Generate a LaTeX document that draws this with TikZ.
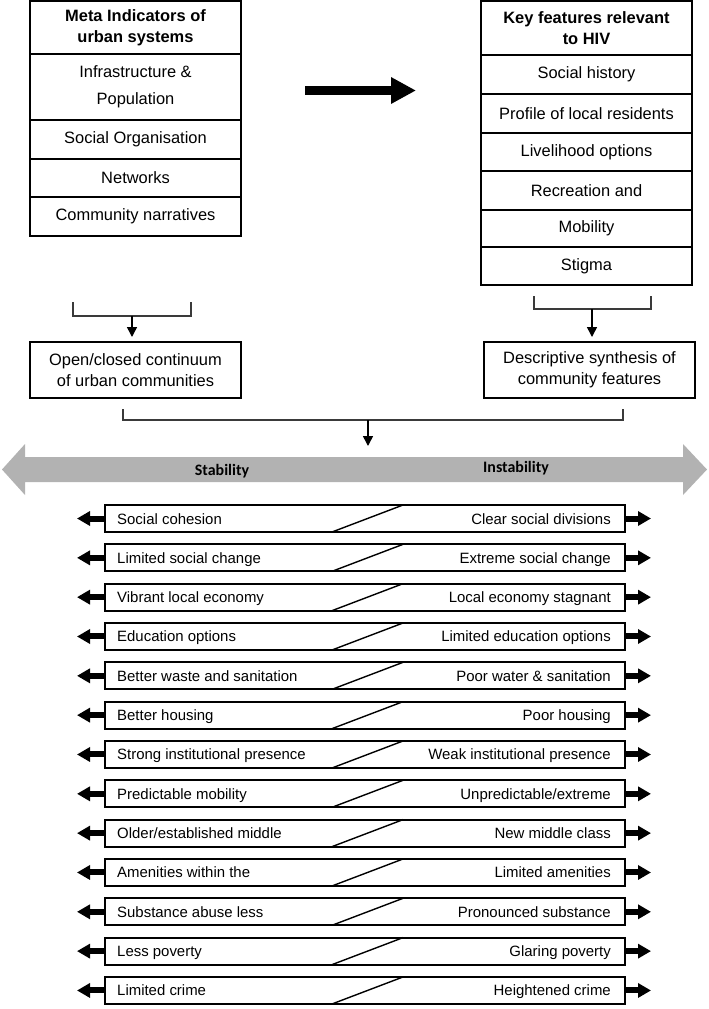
\documentclass[tikz,border=0pt]{standalone}
\usepackage{fontspec}
\setmainfont{Liberation Sans}
\newfontfamily\calfont{Carlito}
\usetikzlibrary{arrows.meta}
\definecolor{bandgray}{HTML}{B2B2B2}
\definecolor{brk}{HTML}{3A3A3A}
\tikzset{
  cell/.style={draw, line width=1.5bp, minimum width=211bp, inner sep=0pt, align=center,
    font=\fontsize{16.5}{21}\selectfont},
  headcell/.style={cell, font=\bfseries\fontsize{16.5}{21}\selectfont},
  bracket/.style={draw=brk, line width=1.4bp},
  downarr/.style={line width=1.5bp, -{Triangle[length=10bp,width=10bp]}},
  bigarr/.style={line width=9bp, -{Triangle[length=25bp,width=25bp]}},
  rowbox/.style={draw, line width=1.8bp, minimum width=520bp, minimum height=27bp, inner sep=0pt},
  rowtxt/.style={font=\fontsize{15}{18}\selectfont, inner sep=0pt},
  rowarr/.style={line width=6bp, -{Triangle[length=13bp,width=14bp]}},
  bandtxt/.style={font=\calfont\bfseries\fontsize{16}{19}\selectfont}
}
\newcommand{\mkrow}[3]{%
  \pgfmathsetmacro{\yt}{505+#1*39.33}%
  \node[rowbox] (row#1) at (365,\yt+13.5) {};
  \draw[line width=1.4bp] (332,\yt+27) -- (403,\yt);
  \node[rowtxt, anchor=base west] (rl#1) at (117,\yt+19) {#2};
  \node[rowtxt, anchor=base east] (rr#1) at (611,\yt+19) {#3};
  \coordinate (la#1) at (77,\yt+13.5);
  \coordinate (ra#1) at (651,\yt+13.5);
  \draw[rowarr] (row#1.west) -- (la#1);
  \draw[rowarr] (row#1.east) -- (ra#1);
}
\begin{document}
\begin{tikzpicture}[x=1bp,y=-1bp]
\useasboundingbox (0,0) rectangle (709,1009);
% left stack
\node[headcell, minimum height=53bp] (L0) at (135.5,27.5) {Meta Indicators of\\urban systems};
\node[cell, minimum height=66bp] (L1) at (135.5,87) {Infrastructure \&\\[6bp]Population};
\node[cell, minimum height=39bp] (L2) at (135.5,139.5) {Social Organisation};
\node[cell, minimum height=38bp] (L3) at (135.5,178) {Networks};
\node[cell, minimum height=39bp] (L4) at (135.5,216.5) {Community narratives};
% right stack
\node[headcell, minimum height=54bp] (R0) at (586.5,28) {Key features relevant\\to HIV};
\node[cell, minimum height=39bp] (R1) at (586.5,74.5) {Social history};
\node[cell, minimum height=39bp] (R2) at (586.5,113.5) {Profile of local residents};
\node[cell, minimum height=38bp] (R3) at (586.5,152) {Livelihood options};
\node[cell, minimum height=39bp] (R4) at (586.5,190.5) {Recreation and};
\node[cell, minimum height=37bp] (R5) at (586.5,228.5) {Mobility};
\node[cell, minimum height=38bp] (R6) at (586.5,266) {Stigma};
% big arrow
\coordinate (ba1) at (305,90.5);
\coordinate (ba2) at (416,90.5);
\draw[bigarr] (ba1) -- (ba2);
% synthesis boxes
\node[cell, minimum height=56bp] (O) at (135.5,370) {Open/closed continuum\\of urban communities};
\node[cell, minimum height=56bp] (D) at (589.5,370) {Descriptive synthesis of\\community features};
% brackets
\draw[bracket] (73,302) -- (73,316) -- (191,316) -- (191,302);
\coordinate (lb) at (132,316);
\draw[downarr] (lb) -- (132,337);
\draw[bracket] (534,296) -- (534,309) -- (651,309) -- (651,296);
\coordinate (rb) at (592,309);
\draw[downarr] (rb) -- (592,337);
\draw[bracket] (123,409) -- (123,420) -- (623,420) -- (623,409);
\coordinate (bb) at (368,420);
\coordinate (bt) at (368,446);
\draw[downarr] (bb) -- (bt);
% band
\fill[bandgray] (2,469.5) -- (25,444) -- (25,457) -- (683,457) -- (683,444) -- (707,469.5)
  -- (683,495) -- (683,482) -- (25,482) -- (25,495) -- cycle;
\node[bandtxt] (stab) at (222,471) {Stability};
\node[bandtxt] (instab) at (516,468) {Instability};
% rows
\mkrow{0}{Social cohesion}{Clear social divisions}
\mkrow{1}{Limited social change}{Extreme social change}
\mkrow{2}{Vibrant local economy}{Local economy stagnant}
\mkrow{3}{Education options}{Limited education options}
\mkrow{4}{Better waste and sanitation}{Poor water \& sanitation}
\mkrow{5}{Better housing}{Poor housing}
\mkrow{6}{Strong institutional presence}{Weak institutional presence}
\mkrow{7}{Predictable mobility}{Unpredictable/extreme}
\mkrow{8}{Older/established middle}{New middle class}
\mkrow{9}{Amenities within the}{Limited amenities}
\mkrow{10}{Substance abuse less}{Pronounced substance}
\mkrow{11}{Less poverty}{Glaring poverty}
\mkrow{12}{Limited crime}{Heightened crime}
\end{tikzpicture}
\end{document}
